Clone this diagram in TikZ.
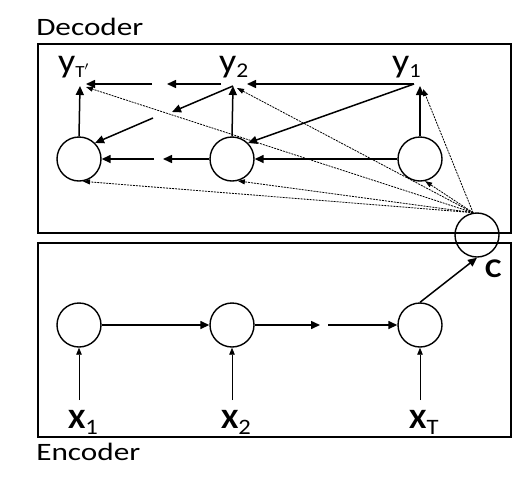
\documentclass[tikz,border=0pt]{standalone}
\usepackage{fontspec}
\setmainfont{Carlito}
\usetikzlibrary{arrows.meta}
\begin{document}
\begin{tikzpicture}[x=1pt,y=-1pt,
  box/.style={draw, line width=1.8pt},
  cell/.style={draw, circle, line width=1.4pt, minimum size=44pt, inner sep=0pt},
  sol/.style={line width=1.5pt, -{Triangle[length=9pt,width=8pt]}},
  inp/.style={line width=0.8pt, -{Triangle[length=7pt,width=5.5pt]}},
  att/.style={line width=0.8pt, dash pattern=on 2pt off 1pt, -{Triangle[length=7pt,width=5pt]}},
  title/.style={inner sep=0pt, anchor=base west, xscale=1.25, font=\fontsize{25}{28}\selectfont},
  ylab/.style={inner sep=0pt, anchor=base west, xscale=1.12},
  xlab/.style={inner sep=0pt, anchor=base west, xscale=1.12},
]
\useasboundingbox (0,0) rectangle (519,488);

% boxes and titles
\node[box, minimum width=473pt, minimum height=189pt, inner sep=0pt, anchor=north west] (dec) at (37,43) {};
\node[box, minimum width=473pt, minimum height=194pt, inner sep=0pt, anchor=north west] (enc) at (37,242) {};
\node[title] (dect) at (36,35) {Decoder};
\node[title] (enct) at (36,460) {Encoder};

% decoder cells
\node[cell] (d1) at (420,159) {};
\node[cell] (d2) at (232,159) {};
\node[cell] (d3) at (79,159) {};
% encoder cells
\node[cell] (e1) at (79,325) {};
\node[cell] (e2) at (232,325) {};
\node[cell] (e3) at (420,325) {};
% context
\node[cell] (c) at (477,235) {};
\node[inner sep=0pt, anchor=base west, xscale=1.15, font=\fontsize{27}{28}\selectfont\bfseries] (cl) at (485,277) {C};

% output labels
\newcommand{\ylabel}[2]{{\fontsize{34}{34}\selectfont y}{\fontsize{#2}{#2}\selectfont\raisebox{-5pt}{#1}}}
\node[ylab] (y3) at (58,72) {\ylabel{T$'$}{17}};
\node[ylab] (y2) at (219,72) {\ylabel{2}{21}};
\node[ylab] (y1) at (392,72) {\ylabel{1}{20}};

% input labels
\newcommand{\xlabel}[1]{{\fontsize{28}{28}\selectfont\bfseries X}{\fontsize{22}{22}\selectfont\raisebox{-6pt}{#1}}}
\node[xlab] (x1) at (68,428) {\xlabel{1}};
\node[xlab] (x2) at (221,428) {\xlabel{2}};
\node[xlab] (x3) at (409,428) {\xlabel{T}};

% ports and gap ends
\coordinate (t1) at (420,86);
\coordinate (t2) at (233,86);
\coordinate (t3) at (80,86);
\coordinate (h1) at (414,84);
\coordinate (h2r) at (247,84);
\coordinate (h2l) at (221,84);
\coordinate (ga) at (167,84);
\coordinate (gb) at (152,84);
\coordinate (h3r) at (86,84);
\coordinate (gc) at (172,112);
\coordinate (gd) at (153,118);
\coordinate (ge) at (163,159);
\coordinate (gf) at (154,159);
\coordinate (gg) at (320,325);
\coordinate (gh) at (328,325);
\coordinate (i1) at (79,400);
\coordinate (i2) at (232,400);
\coordinate (i3) at (420,400);
\coordinate (a3) at (86,87);
\coordinate (a2) at (237,88);
\coordinate (a1) at (423,89);

% decoder connectors
\draw[sol] (d1.north) -- (t1);
\draw[sol] (d2.north) -- (t2);
\draw[sol] (d3.north) -- (t3);
\draw[sol] (h1) -- (h2r);
\draw[sol] (h2l) -- (ga);
\draw[sol] (gb) -- (h3r);
\draw[sol] (h1) -- (d2.45);
\draw[sol] (t2) -- (gc);
\draw[sol] (gd) -- (d3.45);
\draw[sol] (d1.west) -- (d2.east);
\draw[sol] (d2.west) -- (ge);
\draw[sol] (gf) -- (d3.east);

% attention (dotted)
\draw[att] (c.100) -- (a3);
\draw[att] (c.100) -- (a2);
\draw[att] (c.100) -- (a1);
\draw[att] (c.100) -- (d3.-80);
\draw[att] (c.100) -- (d2.-75);
\draw[att] (c.100) -- (d1.-77);

% encoder connectors
\draw[sol] (e1.east) -- (e2.west);
\draw[sol] (e2.east) -- (gg);
\draw[sol] (gh) -- (e3.west);
\draw[sol] (e3.north) -- (c.south);
\draw[inp] (i1) -- (e1.south);
\draw[inp] (i2) -- (e2.south);
\draw[inp] (i3) -- (e3.south);
\end{tikzpicture}
\end{document}
